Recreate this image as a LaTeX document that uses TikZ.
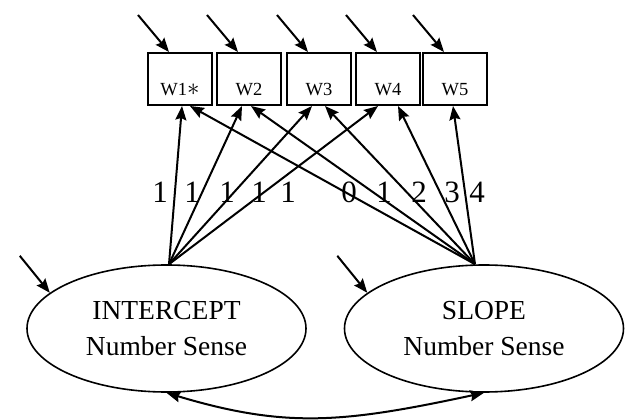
\documentclass[tikz,border=0pt]{standalone}
\usepackage{fontspec}
\setmainfont{Liberation Serif}
\usepackage{tikz}
\usetikzlibrary{shapes.geometric}
\usetikzlibrary{arrows.meta}
\usetikzlibrary{calc}

\begin{document}
\begin{tikzpicture}[x=1pt,y=-1pt,
   arr/.style={-{Stealth[length=14pt,width=11pt,inset=2pt]},line width=2pt},
   box/.style={
      draw,
      line width = 2pt,
      minimum width = 64pt,
      inner xsep = 0pt,
      inner ysep = 0pt,
      text height = 43pt,
      text depth = 9pt,
      font = \fontsize{18.5}{20}\selectfont
   },
   latent/.style={
      draw,
      ellipse,
      line width = 1.6pt,
      minimum width = 279pt,
      minimum height = 127pt,
      inner sep = 0pt,
      align = center,
      font = \fontsize{27.5}{36}\selectfont
   },
   num/.style={anchor=base,inner sep=0pt,font=\fontsize{31}{32}\selectfont}]

   \useasboundingbox (0,0) rectangle (625,420);

   \foreach \n/\x/\t in {1/180/W1{\fontsize{25}{25}\selectfont$\ast$},2/249/W2,3/319/W3,4/388/W4,5/455/W5}
      \node[box] (w\n) at (\x,79) {\t};

   \node[latent] (icpt) at (166.5,328.5) {INTERCEPT\\Number Sense};
   \node[latent] (slope) at (484,328.5) {SLOPE\\Number Sense};

   \coordinate (ia) at ([xshift=2.5pt]icpt.north);
   \coordinate (sa) at ([xshift=-9pt]slope.north);

   \foreach \i/\d in {1/2,2/-7,3/-7,4/-10}
      \draw[arr] (ia) -- ([xshift=\d pt]w\i.south);
   \foreach \i/\d in {1/10,2/2,3/6,4/10,5/-2}
      \draw[arr] (sa) -- ([xshift=\d pt]w\i.south);

   \foreach \i in {1,...,5} {
      \coordinate (e\i) at ($(w\i.north)+(-42,-37)$);
      \draw[arr] (e\i) -- ([xshift=-11pt]w\i.north);
   }

   \coordinate (ei) at ($(icpt.163)+(-30,-37)$);
   \draw[arr] (ei) -- (icpt.163);
   \coordinate (es) at ($(slope.163)+(-30,-37)$);
   \draw[arr] (es) -- (slope.163);

   \draw[{Stealth[length=14pt,width=11pt,inset=2pt]}-{Stealth[length=14pt,width=11pt,inset=2pt]},line width=2pt]
      (icpt.south) .. controls +(120,36) and +(-140,30) .. (slope.south);

   \foreach \n/\x/\t in {1/160/1,2/192/1,3/227/1,4/259/1,5/288/1,6/349/0,7/384/1,8/419/2,9/452/3,10/477/4}
      \node[num] (n\n) at (\x,203) {\t};

\end{tikzpicture}
\end{document}
